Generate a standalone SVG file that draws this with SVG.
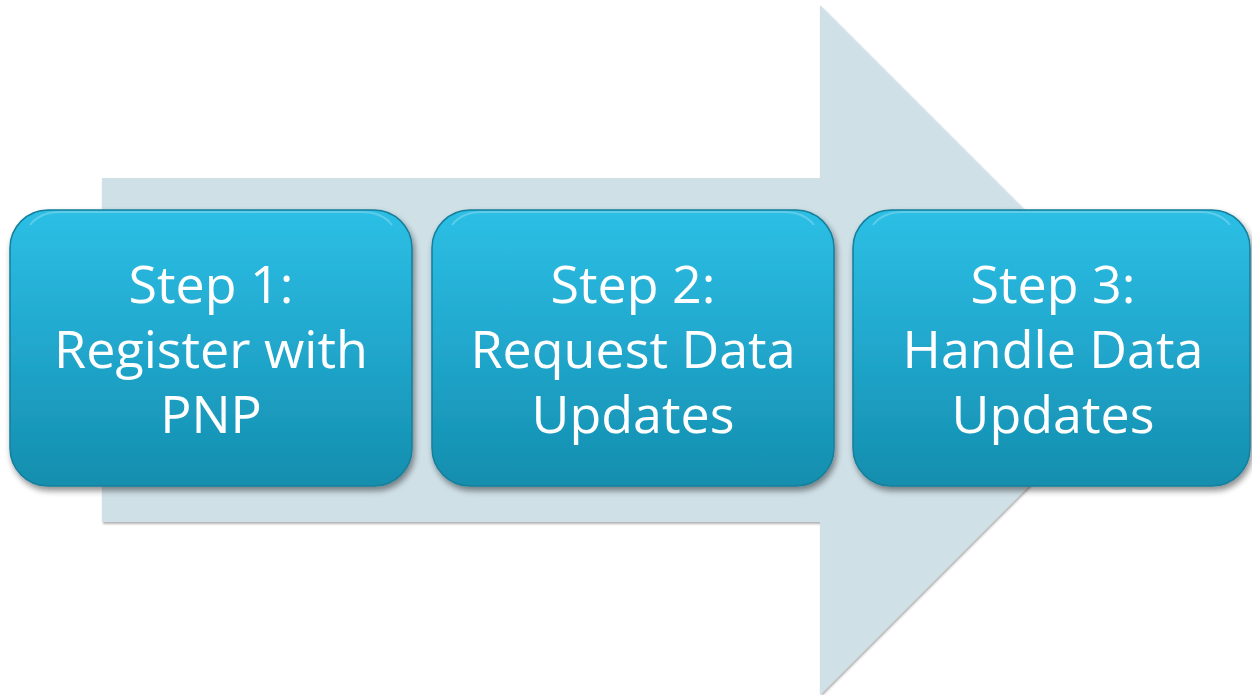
<svg xmlns="http://www.w3.org/2000/svg" width="1252" height="695" viewBox="0 0 1252 695">
<style>
.box{fill:url(#boxGrad);stroke:#137f9c;stroke-width:1.5}
.hl{fill:none;stroke:#7fd6ee;stroke-width:2;opacity:0.6}
.lbl{font-family:"Open Sans","Liberation Sans",sans-serif;font-size:52px;fill:#ffffff;text-anchor:middle}
</style>
<defs>
<linearGradient id="boxGrad" x1="0" y1="0" x2="0" y2="1">
<stop offset="0" stop-color="#2dbfe5"/>
<stop offset="0.45" stop-color="#22a9cf"/>
<stop offset="1" stop-color="#138eae"/>
</linearGradient>
<filter id="shadow" x="-10%" y="-10%" width="125%" height="130%">
<feGaussianBlur in="SourceAlpha" stdDeviation="3"/>
<feOffset dx="2" dy="4" result="b"/>
<feComponentTransfer><feFuncA type="linear" slope="0.45"/></feComponentTransfer>
<feMerge><feMergeNode/><feMergeNode in="SourceGraphic"/></feMerge>
</filter>
<filter id="ashadow" x="-5%" y="-5%" width="110%" height="110%">
<feGaussianBlur in="SourceAlpha" stdDeviation="1.2"/>
<feOffset dx="1" dy="2" result="b"/>
<feComponentTransfer><feFuncA type="linear" slope="0.3"/></feComponentTransfer>
<feMerge><feMergeNode/><feMergeNode in="SourceGraphic"/></feMerge>
</filter>
</defs>
<rect width="1252" height="695" fill="#ffffff"/>
<g id="connectors">
<path d="M102,178 H820 V5 L1165,350 L820,695 V522 H102 Z" fill="#cfe0e7" filter="url(#ashadow)"/>
</g>
<g id="step1" filter="url(#shadow)">
<rect class="box" x="10" y="210" width="402" height="276" rx="38"/>
<path class="hl" d="M30,225 Q40,212 60,212 H362 Q382,212 392,225"/>
<text class="lbl" x="211" y="303">Step 1:</text>
<text class="lbl" x="211" y="368">Register with</text>
<text class="lbl" x="211" y="433">PNP</text>
</g>
<g id="step2" filter="url(#shadow)">
<rect class="box" x="432" y="210" width="402" height="276" rx="38"/>
<path class="hl" d="M452,225 Q462,212 482,212 H784 Q804,212 814,225"/>
<text class="lbl" x="633" y="303">Step 2:</text>
<text class="lbl" x="633" y="368">Request Data</text>
<text class="lbl" x="633" y="433">Updates</text>
</g>
<g id="step3" filter="url(#shadow)">
<rect class="box" x="853" y="210" width="397" height="276" rx="38"/>
<path class="hl" d="M873,225 Q883,212 903,212 H1200 Q1220,212 1230,225"/>
<text class="lbl" x="1053" y="303">Step 3:</text>
<text class="lbl" x="1053" y="368">Handle Data</text>
<text class="lbl" x="1053" y="433">Updates</text>
</g>
</svg>
